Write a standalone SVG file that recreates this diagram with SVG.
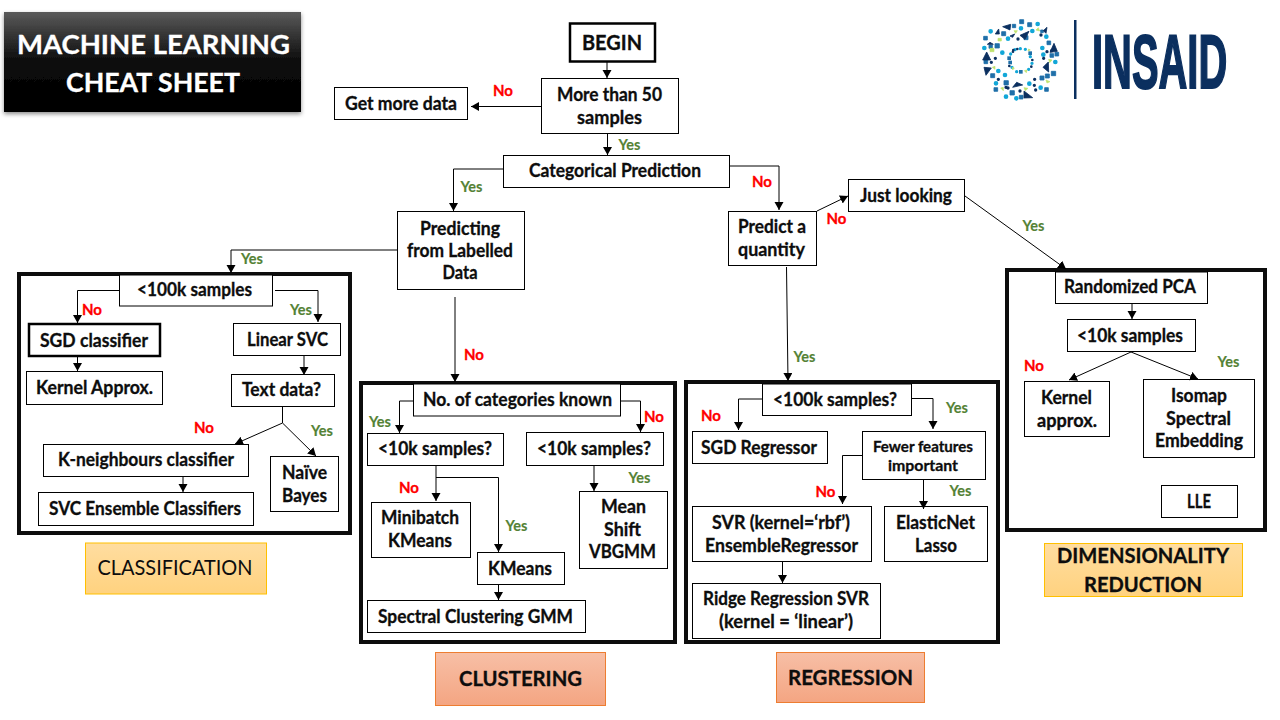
<svg xmlns="http://www.w3.org/2000/svg" width="1280" height="720" viewBox="0 0 1280 720">
<style>
text{font-family:Lato,"Liberation Sans",sans-serif;font-weight:700;fill:#0d0d0d;font-size:18px;text-anchor:middle;stroke:#0d0d0d;stroke-width:.3px;transform:translateY(.7px)}
.b{fill:#fff;stroke:#000;stroke-width:1}
.t{fill:#fff;stroke:#000;stroke-width:2.5}
.f{fill:none;stroke:#0d0d0d;stroke-width:4}
.c{fill:none;stroke:#000;stroke-width:1;marker-end:url(#a)}
.p{fill:none;stroke:#000;stroke-width:1}
text.n{fill:#ff0000;stroke:#ff0000;font-size:15px;transform:none}
text.y{fill:#548235;stroke:#548235;stroke-width:.15px;font-size:14.500px;transform:none}
text.h{font-size:21px;transform:none}
text.w{fill:#fff;stroke:#fff;font-size:26px;transform:none}
text.l{font-family:"Liberation Sans",sans-serif;fill:#0b2f5f;stroke:#0b2f5f;stroke-width:2px;font-size:76px;text-anchor:start;transform:none}
</style>
<defs>
<marker id="a" markerUnits="userSpaceOnUse" markerWidth="10" markerHeight="10" refX="8" refY="4.5" orient="auto"><path d="M0 0L8 4.5L0 9z" fill="#000"/></marker>
<linearGradient id="tg" x1="0" y1="0" x2="0" y2="1"><stop offset="0" stop-color="#5a5a5a"/><stop offset=".5" stop-color="#0a0a0a"/><stop offset="1" stop-color="#000"/></linearGradient>
<linearGradient id="og" x1="0" y1="0" x2="0" y2="1"><stop offset="0" stop-color="#ffdda0"/><stop offset="1" stop-color="#ffd27f"/></linearGradient>
<linearGradient id="rg" x1="0" y1="0" x2="0" y2="1"><stop offset="0" stop-color="#f7bfa6"/><stop offset="1" stop-color="#f4a582"/></linearGradient>
<filter id="sh" x="-5%" y="-10%" width="110%" height="125%"><feDropShadow dx="0" dy="2" stdDeviation="2" flood-color="#000" flood-opacity=".45"/></filter>
</defs>
<rect width="1280" height="720" fill="#fff"/>

<g id="title"><rect x="4" y="12" width="297" height="100" fill="url(#tg)" filter="url(#sh)"/>
<text class="w" x="153.500" y="53.500" textLength="273" lengthAdjust="spacingAndGlyphs">MACHINE LEARNING</text>
<text class="w" x="153" y="91.500" textLength="174" lengthAdjust="spacingAndGlyphs">CHEAT SHEET</text></g>

<g id="logo">
<g transform="translate(970,10) scale(.3333)">
<path fill="none" stroke="#12a7d8" stroke-width="14" stroke-linecap="round" d="M62 64h0M203 42h0M153 55h0M229 80h0M187 63h0M114 86h0M43 114h0M97 128h0M217 114h0M256 156h0M220 134h0M85 183h0M78 220h0M178 221h0M212 233h0M108 260h0M139 265h0M105 195h0"/>
<path fill="#1f6fa8" stroke="#1f6fa8" stroke-width="2.500" d="M149 29h12v12h-12zM173 38h12v12h-12zM127 43h10v10h-10zM95 65h12v12h-12zM162 77h12v12h-12zM41 79h11v11h-11zM75 101h13v13h-13zM231 93h11v11h-11zM255 127h11v11h-11zM240 131h11v11h-11zM244 184h13v13h-13zM42 150h11v11h-11zM62 191h12v12h-12zM226 192h12v12h-12zM210 198h12v12h-12zM102 212h13v13h-13zM72 233h11v11h-11zM120 242h13v13h-13zM148 256h11v11h-11zM224 233h11v11h-11zM57 105h10v10h-10zM212 60h8v8h-8z"/>
<path fill="#0b2f5f" stroke="#0b2f5f" stroke-width="2.500" d="M98 50L122 43L120 60zM150 76L177 64L165 88zM220 62L231 52L228 70zM76 72L86 57L88 72zM240 127L252 100L262 124zM38 150L50 126L62 150zM42 172L64 174L48 196zM219 172L235 156L236 186zM128 232L158 225L140 217zM162 243L188 263L162 264zM52 103H70L60 97zM120 78L134 72L128 82z"/>
<path fill="none" stroke="#0b2f5f" stroke-width="10" stroke-linecap="round" d="M144 87h0M64 157h0M76 145h0M221 145h0M85 208h0M194 208h0M114 234h0M150 243h0M193 226h0M213 75h0M231 125h0M245 122h0M108 232h0M197 240h0"/>
<path fill="#bfe26c" stroke="#bfe26c" stroke-width="2" d="M198 60l7-7l4 10zM132 62h10l-5 8zM84 85h10v8h-10zM60 115h12v10h-12zM236 148l10 2l-7 8zM67 172l8-3v9zM228 210l12 5l-9 4zM162 233l12 2l-8 7zM92 234l8-2v10z"/>
<g fill="#1f6fa8"><rect x="112" y="139" width="11" height="11"/><rect x="115" y="152" width="11" height="11"/><rect x="147" y="180" width="11" height="11"/><rect x="175" y="124" width="11" height="11"/></g>
<path fill="none" stroke="#12a7d8" stroke-width="10" stroke-linecap="round" d="M122 132h0M135 119h0M151 116h0M166 118h0M181 140h0M186 160h0M176 178h0M140 185h0M126 172h0"/>
<path fill="none" stroke="#0b2f5f" stroke-width="8" stroke-linecap="round" d="M142 117h0M129 125h0M118 168h0M187 150h0M184 170h0M130 120h0"/>
<path fill="#bfe26c" stroke="#bfe26c" stroke-width="2" d="M163 182l8-2l-2 8zM127 172l6 2l-5 6zM176 117l5 3l-7 3z"/>
</g>
<rect x="1074" y="20" width="2.500" height="79" fill="#0b2f5f"/>
<g transform="translate(1092,88) scale(.525,1)"><text class="l" x="0" y="0">INSAID</text></g>
</g>

<g id="frames">
<rect class="f" x="19" y="274" width="331" height="259"/>
<rect class="f" x="361" y="383" width="314" height="259"/>
<rect class="f" x="686" y="382" width="312" height="260"/>
<rect class="f" x="1007" y="270" width="258" height="260"/>
</g>

<g id="begin"><rect class="t" x="570" y="23.500" width="85" height="38"/><text class="h" x="612" y="50" textLength="60" lengthAdjust="spacingAndGlyphs">BEGIN</text></g>
<g id="more-50"><rect class="b" x="541.500" y="78.500" width="137" height="55"/><text x="609.500" y="100" textLength="105" lengthAdjust="spacingAndGlyphs">More than 50</text><text x="609.500" y="123" textLength="65" lengthAdjust="spacingAndGlyphs">samples</text></g>
<g id="get-more"><rect class="b" x="334.500" y="87.500" width="133" height="32"/><text x="401" y="109" textLength="112" lengthAdjust="spacingAndGlyphs">Get more data</text></g>
<g id="categorical"><rect class="b" x="503.500" y="155.500" width="226" height="32"/><text x="615" y="176" textLength="172" lengthAdjust="spacingAndGlyphs">Categorical Prediction</text></g>
<g id="predicting"><rect class="b" x="397.500" y="211.500" width="127" height="78"/><text x="460" y="234" textLength="80" lengthAdjust="spacingAndGlyphs">Predicting</text><text x="460" y="256" textLength="106" lengthAdjust="spacingAndGlyphs">from Labelled</text><text x="460" y="278" textLength="35" lengthAdjust="spacingAndGlyphs">Data</text></g>
<g id="predict-quantity"><rect class="b" x="728.500" y="211.500" width="88" height="54"/><text x="772" y="232" textLength="68" lengthAdjust="spacingAndGlyphs">Predict a</text><text x="771.500" y="255" textLength="67" lengthAdjust="spacingAndGlyphs">quantity</text></g>
<g id="just-looking"><rect class="b" x="848.500" y="179.500" width="116" height="32"/><text x="906" y="201" textLength="92" lengthAdjust="spacingAndGlyphs">Just looking</text></g>

<g id="c-100k"><rect class="b" x="119.500" y="275" width="153" height="31"/><text x="194.500" y="295" textLength="115" lengthAdjust="spacingAndGlyphs">&lt;100k samples</text></g>
<g id="sgd-classifier"><rect class="t" x="29" y="324" width="131" height="32"/><text x="94" y="346" textLength="108" lengthAdjust="spacingAndGlyphs">SGD classifier</text></g>
<g id="kernel-approx"><rect class="b" x="26.500" y="371.500" width="136" height="33"/><text x="94.500" y="393" textLength="117" lengthAdjust="spacingAndGlyphs">Kernel Approx.</text></g>
<g id="linear-svc"><rect class="b" x="233.500" y="323.500" width="107" height="32"/><text x="287.500" y="345" textLength="81" lengthAdjust="spacingAndGlyphs">Linear SVC</text></g>
<g id="text-data"><rect class="b" x="231.500" y="374.500" width="103" height="32"/><text x="281.500" y="395" textLength="79" lengthAdjust="spacingAndGlyphs">Text data?</text></g>
<g id="k-neighbours"><rect class="b" x="43.500" y="444.500" width="205" height="32"/><text x="146" y="465" textLength="176" lengthAdjust="spacingAndGlyphs">K-neighbours classifier</text></g>
<g id="svc-ensemble"><rect class="b" x="38.500" y="492.500" width="215" height="33"/><text x="145" y="514" textLength="192" lengthAdjust="spacingAndGlyphs">SVC Ensemble Classifiers</text></g>
<g id="naive-bayes"><rect class="b" x="270.500" y="456.500" width="68" height="55"/><text x="304.500" y="478" textLength="45" lengthAdjust="spacingAndGlyphs">Naïve</text><text x="304.500" y="501" textLength="45" lengthAdjust="spacingAndGlyphs">Bayes</text></g>
<g id="classification"><rect x="85.500" y="543" width="181" height="51" fill="url(#og)" stroke="#ffc000"/><text class="h" x="175" y="575" style="font-weight:400;stroke:none" textLength="155" lengthAdjust="spacingAndGlyphs">CLASSIFICATION</text></g>

<g id="categories-known"><rect class="b" x="413.500" y="384" width="207" height="32"/><text x="517.500" y="405" textLength="189" lengthAdjust="spacingAndGlyphs">No. of categories known</text></g>
<g id="cl-10k-left"><rect class="b" x="367.500" y="433.500" width="136" height="32"/><text x="435" y="454" textLength="114" lengthAdjust="spacingAndGlyphs">&lt;10k samples?</text></g>
<g id="cl-10k-right"><rect class="b" x="526.500" y="432.500" width="137" height="33"/><text x="594" y="454" textLength="114" lengthAdjust="spacingAndGlyphs">&lt;10k samples?</text></g>
<g id="minibatch"><rect class="b" x="371.500" y="502.500" width="99" height="55"/><text x="420" y="523" textLength="78" lengthAdjust="spacingAndGlyphs">Minibatch</text><text x="420" y="546" textLength="64" lengthAdjust="spacingAndGlyphs">KMeans</text></g>
<g id="kmeans"><rect class="b" x="477.500" y="552.500" width="87" height="32"/><text x="520" y="574" textLength="64" lengthAdjust="spacingAndGlyphs">KMeans</text></g>
<g id="spectral-gmm"><rect class="b" x="367.500" y="600.500" width="218" height="32"/><text x="475.500" y="622" textLength="195" lengthAdjust="spacingAndGlyphs">Spectral Clustering GMM</text></g>
<g id="mean-shift"><rect class="b" x="579.500" y="491.500" width="88" height="77"/><text x="623.500" y="512" textLength="45" lengthAdjust="spacingAndGlyphs">Mean</text><text x="622.500" y="535" textLength="37" lengthAdjust="spacingAndGlyphs">Shift</text><text x="622.500" y="557" textLength="67" lengthAdjust="spacingAndGlyphs">VBGMM</text></g>
<g id="clustering"><rect x="435.500" y="652.500" width="170" height="53" fill="url(#rg)" stroke="#ed7d31"/><text class="h" x="520.500" y="686" textLength="123" lengthAdjust="spacingAndGlyphs">CLUSTERING</text></g>

<g id="r-100k"><rect class="b" x="762.500" y="384" width="149" height="31.500"/><text x="835" y="405" textLength="124" lengthAdjust="spacingAndGlyphs">&lt;100k samples?</text></g>
<g id="sgd-regressor"><rect class="b" x="692.500" y="431.500" width="135" height="32"/><text x="759" y="453" textLength="116" lengthAdjust="spacingAndGlyphs">SGD Regressor</text></g>
<g id="fewer-features"><rect class="b" x="862.500" y="431.500" width="123" height="48"/><text x="923" y="451" style="font-size:14.500px" textLength="100" lengthAdjust="spacingAndGlyphs">Fewer features</text><text x="923" y="470" style="font-size:14.500px" textLength="70" lengthAdjust="spacingAndGlyphs">important</text></g>
<g id="svr-ensemble"><rect class="b" x="692.500" y="506.500" width="179" height="55"/><text x="781" y="528" textLength="138" lengthAdjust="spacingAndGlyphs">SVR (kernel=‘rbf’)</text><text x="781.500" y="551" textLength="153" lengthAdjust="spacingAndGlyphs">EnsembleRegressor</text></g>
<g id="elasticnet-lasso"><rect class="b" x="884.500" y="506.500" width="103" height="55"/><text x="935.500" y="528" textLength="79" lengthAdjust="spacingAndGlyphs">ElasticNet</text><text x="936" y="551" textLength="42" lengthAdjust="spacingAndGlyphs">Lasso</text></g>
<g id="ridge-svr"><rect class="b" x="692.500" y="583.500" width="188" height="55"/><text x="786" y="604" textLength="166" lengthAdjust="spacingAndGlyphs">Ridge Regression SVR</text><text x="786" y="627" textLength="134" lengthAdjust="spacingAndGlyphs">(kernel = ‘linear’)</text></g>
<g id="regression"><rect x="776.500" y="652.500" width="148" height="50" fill="url(#rg)" stroke="#ed7d31"/><text class="h" x="850.500" y="685" textLength="125" lengthAdjust="spacingAndGlyphs">REGRESSION</text></g>

<g id="randomized-pca"><rect class="b" x="1055.500" y="272" width="152" height="31.500"/><text x="1130" y="292" textLength="132" lengthAdjust="spacingAndGlyphs">Randomized PCA</text></g>
<g id="d-10k"><rect class="b" x="1067.500" y="319.500" width="128" height="32"/><text x="1130" y="341" textLength="106" lengthAdjust="spacingAndGlyphs">&lt;10k samples</text></g>
<g id="kernel-approx-d"><rect class="b" x="1024.500" y="381.500" width="85" height="55"/><text x="1066.500" y="403" textLength="51" lengthAdjust="spacingAndGlyphs">Kernel</text><text x="1067" y="426" textLength="60" lengthAdjust="spacingAndGlyphs">approx.</text></g>
<g id="isomap"><rect class="b" x="1143.500" y="379.500" width="111" height="78"/><text x="1199" y="401" textLength="56" lengthAdjust="spacingAndGlyphs">Isomap</text><text x="1198.500" y="424" textLength="65" lengthAdjust="spacingAndGlyphs">Spectral</text><text x="1199" y="446" textLength="88" lengthAdjust="spacingAndGlyphs">Embedding</text></g>
<g id="lle"><rect class="b" x="1161.500" y="485.500" width="76" height="32"/><text x="1199" y="507" textLength="24" lengthAdjust="spacingAndGlyphs">LLE</text></g>
<g id="dimensionality"><rect x="1044.500" y="543.500" width="198" height="53" fill="url(#og)" stroke="#ffc000"/><text class="h" x="1143" y="563" textLength="172" lengthAdjust="spacingAndGlyphs">DIMENSIONALITY</text><text class="h" x="1143" y="592" textLength="118" lengthAdjust="spacingAndGlyphs">REDUCTION</text></g>

<g id="connectors">
<path class="c" d="M607 62V78"/>
<path class="c" d="M541 106.500H471"/>
<path class="c" d="M607.500 133V155"/>
<path class="c" d="M503 169H453.500V211"/>
<path class="c" d="M729 166H779V210"/>
<path class="c" d="M817 211L848 196"/>
<path class="c" d="M965 196L1066 269"/>
<path class="c" d="M786.500 267L788 381"/>
<path class="c" d="M397 250H231V273"/>
<path class="c" d="M455 297V382"/>
<path class="c" d="M119 290.500H77.500V323"/>
<path class="c" d="M275 290.500H318V322"/>
<path class="c" d="M77.500 356V371"/>
<path class="c" d="M304 355V375"/>
<path class="p" d="M282.500 406V423"/>
<path class="c" d="M282.500 423L235 444"/>
<path class="c" d="M282.500 423L316 456"/>
<path class="c" d="M183 476V492"/>
<path class="c" d="M413 401H399.500V433"/>
<path class="c" d="M621 401H640.500V432"/>
<path class="c" d="M436 465V501"/>
<path class="c" d="M436 477.500H498.500V552"/>
<path class="c" d="M498.500 584V600"/>
<path class="c" d="M594 465V491"/>
<path class="c" d="M762 399H738.500V430"/>
<path class="c" d="M911 398.500H933V429"/>
<path class="c" d="M862 455.500H842.500V504"/>
<path class="c" d="M923.500 479V509"/>
<path class="c" d="M782.500 561V583"/>
<path class="c" d="M1132 303V319"/>
<path class="c" d="M1131 352L1069 380"/>
<path class="c" d="M1131 352L1198 379"/>
</g>

<g id="edge-labels">
<text class="n" x="503" y="96">No</text>
<text class="y" x="629.500" y="149.500">Yes</text>
<text class="y" x="471.500" y="192">Yes</text>
<text class="n" x="762" y="187">No</text>
<text class="n" x="836.500" y="224">No</text>
<text class="y" x="1033.500" y="231">Yes</text>
<text class="y" x="804.500" y="362">Yes</text>
<text class="y" x="252" y="264">Yes</text>
<text class="n" x="92" y="315">No</text>
<text class="y" x="301" y="315">Yes</text>
<text class="n" x="204" y="433">No</text>
<text class="y" x="322" y="436">Yes</text>
<text class="n" x="474" y="360">No</text>
<text class="y" x="380" y="427">Yes</text>
<text class="n" x="654" y="422">No</text>
<text class="n" x="409" y="493">No</text>
<text class="y" x="516.500" y="531">Yes</text>
<text class="y" x="639.500" y="483">Yes</text>
<text class="n" x="711" y="421">No</text>
<text class="y" x="957" y="413">Yes</text>
<text class="n" x="825.500" y="497">No</text>
<text class="y" x="960.500" y="496">Yes</text>
<text class="n" x="1034" y="371">No</text>
<text class="y" x="1228.500" y="367">Yes</text>
</g>
</svg>
